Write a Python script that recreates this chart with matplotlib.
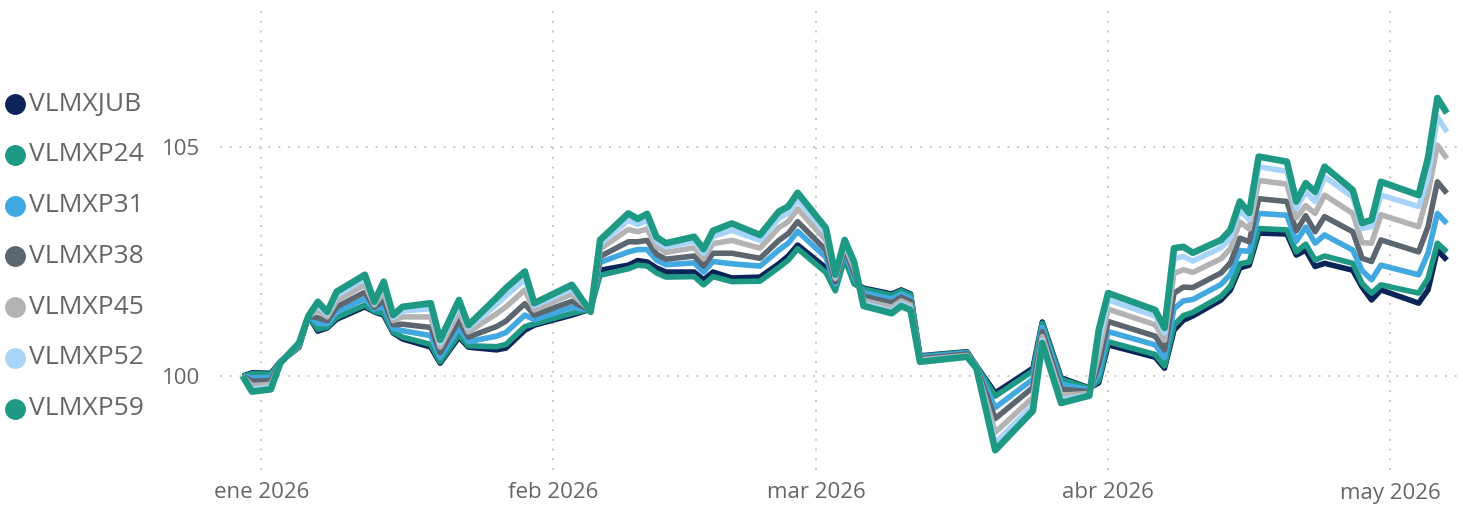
import matplotlib
matplotlib.use("Agg")
import matplotlib.pyplot as plt
import matplotlib.dates as mdates
from matplotlib.lines import Line2D
import pandas as pd

dates = ["2025-12-30", "2025-12-31", "2026-01-02", "2026-01-03", "2026-01-05", "2026-01-06",
         "2026-01-07", "2026-01-08", "2026-01-09", "2026-01-12", "2026-01-13", "2026-01-14",
         "2026-01-15", "2026-01-16", "2026-01-19", "2026-01-20", "2026-01-22", "2026-01-23",
         "2026-01-26", "2026-01-27", "2026-01-29", "2026-01-30", "2026-02-03", "2026-02-05",
         "2026-02-06", "2026-02-09", "2026-02-10", "2026-02-11", "2026-02-12", "2026-02-13",
         "2026-02-16", "2026-02-17", "2026-02-18", "2026-02-20", "2026-02-23", "2026-02-25",
         "2026-02-26", "2026-02-27", "2026-03-02", "2026-03-03", "2026-03-04", "2026-03-05",
         "2026-03-06", "2026-03-09", "2026-03-10", "2026-03-11", "2026-03-12", "2026-03-17",
         "2026-03-18", "2026-03-20", "2026-03-24", "2026-03-25", "2026-03-27", "2026-03-30",
         "2026-03-31", "2026-04-01", "2026-04-06", "2026-04-07", "2026-04-08", "2026-04-09",
         "2026-04-10", "2026-04-13", "2026-04-14", "2026-04-15", "2026-04-16", "2026-04-17",
         "2026-04-20", "2026-04-21", "2026-04-22", "2026-04-23", "2026-04-24", "2026-04-27",
         "2026-04-28", "2026-04-29", "2026-04-30", "2026-05-04", "2026-05-05", "2026-05-06",
         "2026-05-07"]

vlmxjub = [100.00, 100.07, 100.06, 100.31, 100.63, 101.31, 100.98, 101.05, 101.24, 101.51,
           101.40, 101.33, 100.94, 100.81, 100.63, 100.28, 100.85, 100.63, 100.57, 100.61,
           101.00, 101.11, 101.33, 101.46, 102.31, 102.42, 102.52, 102.49, 102.36, 102.27,
           102.27, 102.10, 102.27, 102.14, 102.16, 102.45, 102.62, 102.86, 102.36, 101.94,
           102.64, 102.03, 101.92, 101.79, 101.88, 101.79, 100.44, 100.53, 100.22, 99.63,
           100.17, 101.18, 99.96, 99.74, 99.85, 100.68, 100.41, 100.17, 101.00, 101.22,
           101.31, 101.66, 101.88, 102.36, 102.42, 103.12, 103.10, 102.64, 102.75, 102.39,
           102.46, 102.31, 101.94, 101.66, 101.88, 101.59, 101.88, 102.75, 102.53]

vlmxp24 = [100.00, 100.05, 100.04, 100.31, 100.64, 101.31, 101.02, 101.07, 101.28, 101.55,
           101.41, 101.37, 100.96, 100.85, 100.69, 100.31, 100.90, 100.66, 100.64, 100.69,
           101.08, 101.14, 101.37, 101.46, 102.20, 102.34, 102.42, 102.40, 102.25, 102.16,
           102.17, 101.99, 102.17, 102.06, 102.07, 102.37, 102.53, 102.78, 102.26, 101.86,
           102.56, 102.01, 101.90, 101.76, 101.86, 101.77, 100.43, 100.52, 100.22, 99.56,
           100.11, 101.15, 99.93, 99.73, 99.90, 100.75, 100.47, 100.22, 101.11, 101.32,
           101.39, 101.74, 101.96, 102.45, 102.49, 103.22, 103.19, 102.71, 102.88, 102.53,
           102.62, 102.46, 102.02, 101.81, 101.99, 101.81, 102.13, 102.90, 102.71]

vlmxp31 = [100.00, 99.96, 99.97, 100.30, 100.65, 101.31, 101.15, 101.14, 101.40, 101.69,
           101.46, 101.52, 101.04, 100.99, 100.88, 100.41, 101.06, 100.75, 100.87, 100.95,
           101.33, 101.23, 101.50, 101.44, 102.48, 102.71, 102.76, 102.76, 102.53, 102.43,
           102.47, 102.27, 102.50, 102.45, 102.40, 102.75, 102.90, 103.16, 102.59, 102.01,
           102.73, 102.15, 101.82, 101.68, 101.79, 101.70, 100.41, 100.50, 100.21, 99.31,
           99.93, 101.06, 99.82, 99.70, 100.05, 100.97, 100.68, 100.40, 101.47, 101.64,
           101.67, 102.00, 102.22, 102.74, 102.72, 103.55, 103.51, 102.94, 103.25, 102.90,
           103.08, 102.75, 102.30, 102.10, 102.42, 102.21, 102.68, 103.55, 103.33]

vlmxp38 = [100.00, 99.89, 99.90, 100.30, 100.67, 101.31, 101.27, 101.21, 101.51, 101.83,
           101.50, 101.66, 101.12, 101.13, 101.06, 100.51, 101.21, 100.85, 101.08, 101.20,
           101.58, 101.33, 101.63, 101.43, 102.61, 102.93, 102.93, 102.96, 102.66, 102.55,
           102.62, 102.40, 102.68, 102.68, 102.57, 102.96, 103.11, 103.37, 102.75, 102.06,
           102.79, 102.24, 101.74, 101.60, 101.72, 101.63, 100.38, 100.48, 100.20, 99.07,
           99.75, 100.97, 99.71, 99.66, 100.25, 101.19, 100.87, 100.57, 101.81, 101.94,
           101.93, 102.25, 102.47, 103.01, 102.93, 103.87, 103.81, 103.17, 103.50, 103.15,
           103.48, 103.15, 102.57, 102.50, 102.97, 102.71, 103.26, 104.24, 103.99]

vlmxp45 = [100.00, 99.79, 99.82, 100.29, 100.69, 101.31, 101.42, 101.29, 101.65, 101.99,
           101.55, 101.83, 101.21, 101.29, 101.29, 100.63, 101.41, 100.96, 101.36, 101.51,
           101.88, 101.44, 101.79, 101.42, 102.77, 103.20, 103.15, 103.21, 102.82, 102.70,
           102.80, 102.56, 102.89, 102.96, 102.79, 103.24, 103.37, 103.65, 102.96, 102.13,
           102.87, 102.35, 101.65, 101.50, 101.64, 101.55, 100.35, 100.45, 100.19, 98.77,
           99.53, 100.86, 99.58, 99.62, 100.50, 101.46, 101.12, 100.78, 102.24, 102.32,
           102.26, 102.56, 102.78, 103.36, 103.21, 104.27, 104.19, 103.45, 103.72, 103.55,
           103.95, 103.55, 102.91, 102.90, 103.52, 103.26, 103.99, 105.04, 104.75]

vlmxp52 = [100.00, 99.71, 99.76, 100.28, 100.71, 101.31, 101.54, 101.35, 101.76, 102.12,
           101.59, 101.97, 101.28, 101.42, 101.47, 100.72, 101.55, 101.05, 101.56, 101.75,
           102.11, 101.53, 101.90, 101.41, 102.88, 103.40, 103.31, 103.40, 102.94, 102.82,
           102.94, 102.68, 103.05, 103.18, 102.96, 103.44, 103.56, 103.85, 103.12, 102.17,
           102.93, 102.43, 101.58, 101.42, 101.58, 101.49, 100.33, 100.43, 100.18, 98.54,
           99.36, 100.78, 99.48, 99.59, 100.75, 101.66, 101.31, 100.94, 102.56, 102.61,
           102.51, 102.80, 103.02, 103.62, 103.41, 104.57, 104.47, 103.66, 104.02, 103.81,
           104.35, 103.91, 103.22, 103.26, 103.95, 103.70, 104.35, 105.66, 105.33]

vlmxp59 = [100.00, 99.66, 99.71, 100.28, 100.72, 101.31, 101.62, 101.40, 101.84, 102.21,
           101.62, 102.06, 101.33, 101.51, 101.59, 100.79, 101.66, 101.11, 101.71, 101.92,
           102.28, 101.59, 101.99, 101.40, 102.97, 103.55, 103.43, 103.54, 103.03, 102.90,
           103.04, 102.77, 103.17, 103.33, 103.08, 103.59, 103.70, 104.00, 103.23, 102.21,
           102.97, 102.49, 101.53, 101.37, 101.53, 101.44, 100.31, 100.42, 100.17, 98.38,
           99.24, 100.72, 99.41, 99.57, 101.00, 101.81, 101.44, 101.05, 102.79, 102.82,
           102.69, 102.97, 103.19, 103.81, 103.56, 104.79, 104.68, 103.81, 104.21, 104.02,
           104.57, 104.06, 103.34, 103.41, 104.24, 103.95, 104.76, 106.07, 105.74]

names = ["VLMXJUB", "VLMXP24", "VLMXP31", "VLMXP38", "VLMXP45", "VLMXP52", "VLMXP59"]
colors = ["#0B2559", "#1E9A84", "#41A8E0", "#5B6670", "#B3B3B3", "#A8D4FA", "#1E9A84"]
series = [vlmxjub, vlmxp24, vlmxp31, vlmxp38, vlmxp45, vlmxp52, vlmxp59]

month_ticks = ["2026-01-01", "2026-02-01", "2026-03-01", "2026-04-01", "2026-05-01"]
month_labels = ["ene 2026", "feb 2026", "mar 2026", "abr 2026", "may 2026"]
y_ticks = [100, 105]

plt.rcParams['font.family'] = ['Open Sans', 'DejaVu Sans']
text_color = '#666666'

x = pd.to_datetime(dates)

fig = plt.figure(figsize=(14.63, 5.09), dpi=100)
ax = fig.add_axes([220 / 1463, 1 - 470 / 509, 1240 / 1463, 465 / 509])

for name, vals, c in zip(names, series, colors):
    lw = 4.8 if name == "VLMXP59" else 4.0
    ax.plot(x, vals, color=c, lw=lw, solid_joinstyle='round', solid_capstyle='butt')

jan1 = mdates.date2num(pd.Timestamp("2026-01-01"))
ax.set_xlim(jan1 - 4.4, jan1 + 120 + 7.4)
ax.set_ylim(100 - 94 / 45.8, 100 + 371 / 45.8)

ax.set_xticks(pd.to_datetime(month_ticks))
ax.set_xticklabels(month_labels)
ax.set_yticks(y_ticks)
ax.set_yticklabels([str(v) for v in y_ticks])

ax.grid(True, color='#c8c8c8', linestyle=(0, (1, 4)), linewidth=1.4)
ax.set_axisbelow(True)
for s in ax.spines.values():
    s.set_visible(False)
ax.tick_params(axis='both', length=0, colors=text_color, labelsize=16)
ax.tick_params(axis='x', pad=9)
ax.tick_params(axis='y', pad=14)

# legend on the left, drawn by hand
for i, (name, c) in enumerate(zip(names, colors)):
    yf = 1 - (104 + 50.8 * i) / 509
    fig.add_artist(Line2D([15 / 1463], [yf], transform=fig.transFigure, marker='o',
                          markersize=14, color=c, linestyle='none'))
    fig.text(29 / 1463, yf, name, fontsize=19, color=text_color, va='center', ha='left')

fig.savefig("out.png", dpi=100)
